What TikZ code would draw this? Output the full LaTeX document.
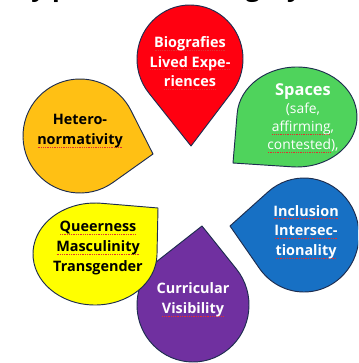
\documentclass[tikz,border=0pt]{standalone}
\usepackage{fontspec}
\setmainfont{Open Sans}
\definecolor{cred}{HTML}{FF0010}
\definecolor{cgreen}{HTML}{4FD35C}
\definecolor{cblue}{HTML}{1770C4}
\definecolor{cpurple}{HTML}{7030A0}
\definecolor{corange}{HTML}{FFC014}
\definecolor{cyellow}{HTML}{FFFF00}
\definecolor{coutline}{HTML}{1E2D4F}
\definecolor{squig}{HTML}{E03030}
\newsavebox\sqbox
\newcommand\sq[1]{\sbox\sqbox{#1}\rlap{\hbox to \wd\sqbox{\xleaders\hbox to 1.5pt{\hss\textcolor{squig}{\rule[-2.4pt]{0.8pt}{0.45pt}}\hss}\hfill}}\usebox\sqbox}
% teardrop: cx, cy, rx, ry, px, py, fill colour
\newcommand\dropshape[7]{%
  \begin{scope}[shift={(#1,#2)}, xscale=#3, yscale=#4]
    \pgfmathsetmacro\nx{(#5-#1)/#3}
    \pgfmathsetmacro\ny{(#6-#2)/#4}
    \pgfmathsetmacro\dd{sqrt(\nx*\nx+\ny*\ny)}
    \pgfmathsetmacro\ph{atan2(\ny,\nx)}
    \pgfmathsetmacro\al{acos(1/\dd)}
    \path[dropstyle, fill=#7] (\ph+\al:1) arc[start angle=\ph+\al, end angle=\ph-\al+360, radius=1] -- (\nx,\ny) -- cycle;
  \end{scope}}
\tikzset{
  dropstyle/.style={draw=coutline, line width=0.8pt, line join=round},
  lbl/.style={align=center, font=\bfseries\fontsize{12.3}{16.8}\selectfont, inner sep=0pt},
  wlbl/.style={lbl, text=white},
  klbl/.style={lbl, text=black},
}
\begin{document}
\begin{tikzpicture}[x=0.03cm, y=-0.03cm]
\useasboundingbox (0,0) rectangle (358,363);
\clip (0,0) rectangle (358,363);
\node[anchor=base west, inner sep=0pt, font=\bfseries\fontsize{21.5}{25}\selectfont] (title) at (0,-3.5) {Key pillars (Subcategory)};
% drops
\dropshape{190}{59}{53}{54}{191}{146}{cred}
\dropshape{297}{117}{60}{50}{233}{163}{cgreen}
\dropshape{304}{235}{55}{57}{230}{226}{cblue}
\dropshape{193}{305}{56}{57}{202}{226}{cpurple}
\dropshape{95}{254}{62}{51}{158}{208}{cyellow}
\dropshape{80}{136}{57}{57}{153}{154}{corange}
% labels
\node[wlbl] (bio) at (190,63) {\sq{Biografies}\\\sq{Lived Expe-}\\\sq{riences}};
\node[wlbl, font=\fontsize{11.8}{15.5}\selectfont] (spaces) at (303,118) {{\bfseries\fontsize{14}{15.5}\selectfont Spaces}\\(safe,\\\sq{affirming},\\\sq{contested}),};
\node[wlbl] (incl) at (306,232) {\sq{Inclusion}\\\sq{Intersec-}\\\sq{tionality}};
\node[wlbl] (curr) at (193,300) {Curricular\\\sq{Visibility}};
\node[klbl] (queer) at (98,248) {\sq{Queerness}\\\sq{Masculinity}\\Transgender};
\node[klbl] (hetero) at (80,131) {Hetero-\\\sq{normativity}};
\end{tikzpicture}
\end{document}
